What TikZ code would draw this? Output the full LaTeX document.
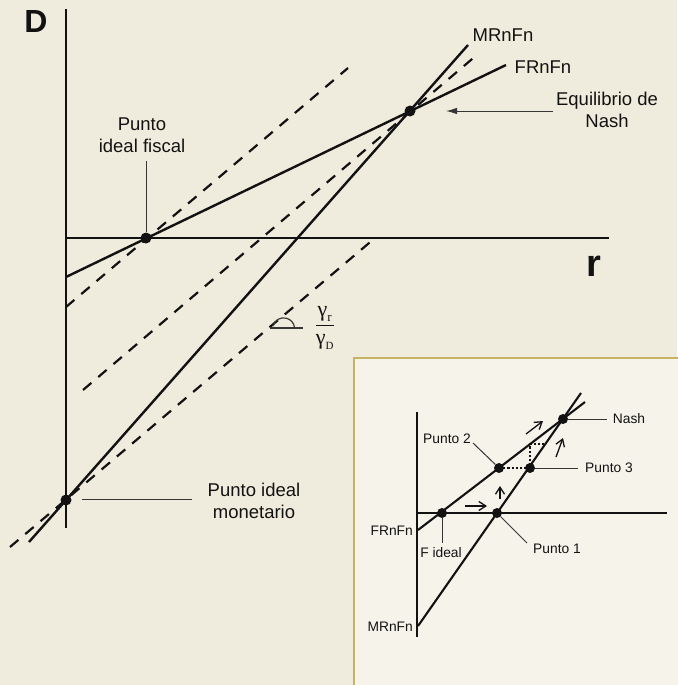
\documentclass[tikz,border=0pt]{standalone}
\usepackage{fontspec}
\setmainfont{Liberation Sans}
\newfontfamily\serifgreek{Liberation Serif}
\usepackage{tikz}
\usetikzlibrary{arrows.meta}
\definecolor{paper}{RGB}{240,236,221}
\definecolor{insetfill}{RGB}{246,243,235}
\definecolor{insetline}{RGB}{200,178,100}
\definecolor{ink}{RGB}{18,18,18}

\begin{document}
\begin{tikzpicture}[
    x=1pt, y=-1pt,
    axisline/.style={draw=ink, line width=2.4pt},
    curve/.style={draw=ink, line width=2.4pt},
    dashline/.style={draw=ink, line width=2.2pt, dash pattern=on 11pt off 9pt},
    leader/.style={draw=ink!85, line width=1pt},
    dot/.style={circle, fill=ink, inner sep=0pt, minimum size=11pt},
    smalldot/.style={circle, fill=ink, inner sep=0pt, minimum size=10pt},
    lbl/.style={text=ink, font=\fontsize{18.5}{22}\selectfont, align=center, inner sep=0pt},
    smalllbl/.style={text=ink, font=\fontsize{13.8}{16}\selectfont, inner sep=0pt},
    axlbl/.style={text=ink, font=\bfseries, inner sep=0pt},
    tinyarrow/.style={draw=ink, line width=1.3pt, -{Straight Barb[length=7pt,width=9pt]}},
    stair/.style={draw=ink, line width=1.3pt, dash pattern=on 2.2pt off 2pt},
]
  % ---- page ----
  \fill[paper] (0,0) rectangle (677,685);
  \useasboundingbox (0,0) rectangle (677,685);

  % ---- main axes ----
  \coordinate (dtop) at (66,9);
  \coordinate (dbot) at (66,528);
  \coordinate (rleft) at (66,238);
  \coordinate (rright) at (609,238);
  \draw[axisline] (dtop) -- (dbot);
  \draw[axisline] (rleft) -- (rright);
  \node[axlbl, font=\fontsize{32}{32}\selectfont\bfseries] (dlabel) at (36,21) {D};
  \node[axlbl, font=\fontsize{38}{38}\selectfont\bfseries] (rlabel) at (594,266) {r};

  % ---- dashed parallels ----
  \coordinate (da0) at (66,307);  \coordinate (da1) at (348,68);
  \coordinate (db0) at (83,390);  \coordinate (db1) at (478,54);
  \coordinate (dc0) at (10,547);  \coordinate (dc1) at (375,238);
  \draw[dashline] (da0) -- (da1);
  \draw[dashline] (db0) -- (db1);
  \draw[dashline] (dc0) -- (dc1);

  % ---- reaction functions ----
  \coordinate (fr0) at (66,277);  \coordinate (fr1) at (506,65);
  \coordinate (mr0) at (29,542);  \coordinate (mr1) at (468,45);
  \draw[curve] (fr0) -- (fr1);
  \draw[curve] (mr0) -- (mr1);
  \node[lbl] (mrlabel) at (503,35) {MRnFn};
  \node[lbl] (frlabel) at (543,67) {FRnFn};

  % ---- points ----
  \node[dot] (pfisc) at (146,238) {};
  \node[dot] (pnash) at (410,111) {};
  \node[dot] (pmon)  at (66,500) {};

  % ---- labels & leaders ----
  \node[lbl] (fisclabel) at (142,135) {Punto\\ideal fiscal};
  \coordinate (fisctop) at (146,161);
  \draw[leader] (fisctop) -- (pfisc);

  \node[lbl] (nashlabel) at (607,110) {Equilibrio de\\Nash};
  \coordinate (nashtail) at (553,111);
  \coordinate (nashhead) at (446,111);
  \draw[leader, -{Latex[length=11pt,width=6.5pt]}] (nashtail) -- (nashhead);

  \node[lbl] (monlabel) at (254,501) {Punto ideal\\monetario};
  \coordinate (mon0) at (82,499);
  \coordinate (mon1) at (192,499);
  \draw[leader] (mon0) -- (mon1);

  % ---- slope mark ----
  \coordinate (ang0) at (270,328);
  \coordinate (ang1) at (303,328);
  \draw[leader, line width=1.2pt] (ang0) -- (ang1);
  \draw[leader, line width=1.2pt] (273,326) arc[start angle=-165, end angle=-5, radius=11];
  \node[text=ink, font=\fontsize{22}{24}\serifgreek] (slope) at (325,328)
    {$\displaystyle\frac{\hbox{γ}_{\hbox{\fontsize{13}{14}\selectfont r}}}
                        {\hbox{γ}_{\hbox{\fontsize{11}{12}\selectfont D}}}$};

  % ---- inset ----
  \filldraw[draw=insetline, fill=insetfill, line width=1.3pt]
    (354,358) rectangle (690,700);

  \coordinate (iv0) at (417,412);  \coordinate (iv1) at (417,637);
  \coordinate (ih0) at (417,513);  \coordinate (ih1) at (667,513);
  \draw[axisline, line width=2.1pt] (iv0) -- (iv1);
  \draw[axisline, line width=2.1pt] (ih0) -- (ih1);

  \coordinate (ifr0) at (418,530);  \coordinate (ifr1) at (585,402);
  \coordinate (imr0) at (418,626);  \coordinate (imr1) at (581,393);
  \draw[curve, line width=2.1pt] (ifr0) -- (ifr1);
  \draw[curve, line width=2.1pt] (imr0) -- (imr1);

  % staircase
  \coordinate (st1) at (530,444);
  \coordinate (st2) at (545,444);
  \draw[stair] (499,468) -- (530,468) -- (st1) -- (st2);

  \node[smalldot] (fideal) at (442,513) {};
  \node[smalldot] (pone)   at (497,513) {};
  \node[smalldot] (ptwo)   at (499,468) {};
  \node[smalldot] (pthree) at (530,468) {};
  \node[smalldot] (inash)  at (563,419) {};

  % adjustment arrows
  \coordinate (ha0) at (465,506);  \coordinate (ha1) at (487,506);
  \coordinate (va0) at (500,499);  \coordinate (va1) at (500,486);
  \coordinate (fa0) at (526,434);  \coordinate (fa1) at (543,421);
  \coordinate (ma0) at (556,457);  \coordinate (ma1) at (563,438);
  \draw[tinyarrow] (ha0) -- (ha1);
  \draw[tinyarrow] (va0) -- (va1);
  \draw[tinyarrow] (fa0) -- (fa1);
  \draw[tinyarrow] (ma0) -- (ma1);

  % inset labels
  \node[smalllbl] (inashlabel) at (629,419) {Nash};
  \coordinate (inashend) at (607,419);
  \draw[leader] (inash) -- (inashend);

  \node[smalllbl] (pthreelabel) at (609,468) {Punto 3};
  \coordinate (pthreeend) at (578,468);
  \draw[leader] (pthree) -- (pthreeend);

  \node[smalllbl] (ptwolabel) at (447,439) {Punto 2};
  \coordinate (ptwoend) at (473,443);
  \draw[leader] (ptwoend) -- (ptwo);

  \node[smalllbl] (fideallabel) at (441,553) {F ideal};
  \coordinate (fidealend) at (442,543);
  \draw[leader] (fideal) -- (fidealend);

  \node[smalllbl] (ponelabel) at (557,549) {Punto 1};
  \coordinate (poneend) at (527,543);
  \draw[leader] (pone) -- (poneend);

  \node[smalllbl, anchor=east] (ifrlabel) at (413,531) {FRnFn};
  \node[smalllbl, anchor=east] (imrlabel) at (413,627) {MRnFn};
\end{tikzpicture}
\end{document}
